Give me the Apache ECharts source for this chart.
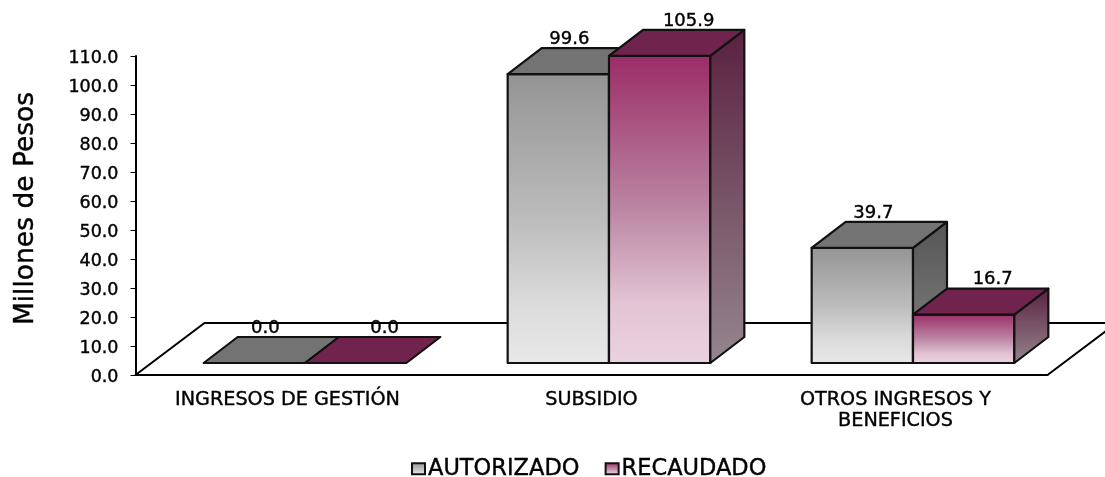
<!DOCTYPE html>
<html>
<head>
<meta charset="utf-8">
<style>
    html, body { margin: 0; padding: 0; background: #fff; }
    #chart { width: 1105px; height: 477px; }
</style>
</head>
<body>
<div id="chart"></div>
<script src="https://cdn.jsdelivr.net/npm/echarts@6/dist/echarts.min.js"></script>
<script>
const categories = ['INGRESOS DE GESTIÓN', 'SUBSIDIO', 'OTROS INGRESOS Y\nBENEFICIOS'];
const autorizado = [0.0, 99.6, 39.7];
const recaudado = [0.0, 105.9, 16.7];

const FONT = '"DejaVu Sans"';

// 3D look: pixel offsets of the floor and of the bar depth
const FLOOR_DX = 69, FLOOR_DY = 52;
const BAR_SHIFT_X = 17.5, BAR_SHIFT_Y = 12;
const BAR_DX = 34, BAR_DY = 26;

// slightly heavier text, the original face is a medium weight
const heavy = { textBorderColor: '#000', textBorderWidth: 0.4 };

function vGrad(stops) {
    return new echarts.graphic.LinearGradient(0, 0, 0, 1,
        stops.map(s => ({ offset: s[0], color: s[1] })));
}

const grayFront = vGrad([[0, '#949494'], [0.5, '#bcbcbc'], [0.8, '#dcdcdc'], [1, '#e8e8e8']]);
const redFront = vGrad([[0, '#9b2c66'], [0.5, '#bb86a3'], [0.8, '#e2c4d4'], [1, '#ebd2df']]);

function poly(points, fill) {
    return {
        type: 'polygon',
        shape: { points: points },
        style: { fill: fill, stroke: '#111', lineWidth: 2.2, lineJoin: 'round' }
    };
}

// slot 0 = left bar of the group, slot 1 = right bar
function barRenderer(slot, colors) {
    return function (params, api) {
        const val = api.value(1);
        const top = api.coord([api.value(0), val]);
        const base = api.coord([api.value(0), 0]);
        const w = api.size([1, 0])[0] / 3;
        const x0 = top[0] - w + slot * w + BAR_SHIFT_X;
        const x1 = x0 + w;
        const yT = top[1] - BAR_SHIFT_Y;
        const yB = base[1] - BAR_SHIFT_Y;
        const children = [{
            type: 'text',
            style: {
                text: val.toFixed(1),
                x: (x0 + x1) / 2 + colors.labelDx,
                y: yT - 35,
                align: 'center',
                verticalAlign: 'middle',
                font: '18px ' + FONT,
                fill: '#000',
                stroke: '#000',
                lineWidth: 0.4
            }
        }];
        if (val > 0) {
            children.push(poly([[x0, yB], [x1, yB], [x1, yT], [x0, yT]], colors.front));
            children.push(poly([[x1, yB], [x1 + BAR_DX, yB - BAR_DY], [x1 + BAR_DX, yT - BAR_DY], [x1, yT]], colors.side));
        }
        children.push(poly([[x0, yT], [x1, yT], [x1 + BAR_DX, yT - BAR_DY], [x0 + BAR_DX, yT - BAR_DY]], colors.top));
        return { type: 'group', children: children };
    };
}

function floorRenderer(params, api) {
    const o = api.coord([0, 0]);
    const band = api.size([1, 0])[0];
    const xL = o[0] - band / 2;
    const xR = xL + band * categories.length;
    return {
        type: 'polyline',
        shape: { points: [[xL, o[1]], [xL + FLOOR_DX, o[1] - FLOOR_DY], [xR + FLOOR_DX, o[1] - FLOOR_DY], [xR, o[1]]] },
        style: { fill: 'none', stroke: '#000', lineWidth: 2 }
    };
}

const option = {
    animation: false,
    backgroundColor: '#fff',
    grid: { left: 135.5, top: 56, width: 912, height: 319, outerBoundsMode: 'none' },
    legend: {
        left: 411,
        top: 457,
        padding: 0,
        itemWidth: 13,
        itemHeight: 11,
        itemGap: 25,
        textStyle: { fontFamily: FONT, fontSize: 22.5, color: '#000', padding: [0, 0, 0, -2], ...heavy },
        data: [
            { name: 'AUTORIZADO', icon: 'rect', itemStyle: { color: grayFront, borderColor: '#111', borderWidth: 2 } },
            { name: 'RECAUDADO', icon: 'rect', itemStyle: { color: redFront, borderColor: '#111', borderWidth: 2 } }
        ]
    },
    xAxis: {
        type: 'category',
        data: categories,
        axisLine: { lineStyle: { color: '#000', width: 2 } },
        axisTick: { length: 4, lineStyle: { color: '#000', width: 1 } },
        axisLabel: { color: '#000', fontFamily: FONT, fontSize: 19.2, margin: 15, lineHeight: 21, interval: 0, ...heavy }
    },
    yAxis: {
        type: 'value',
        min: 0,
        max: 110,
        interval: 10,
        name: 'Millones de Pesos',
        nameLocation: 'middle',
        nameRotate: 90,
        nameGap: 96,
        nameTextStyle: { color: '#000', fontFamily: FONT, fontSize: 26.5, padding: [0, 0, 0, 14], ...heavy },
        axisLine: { show: true, lineStyle: { color: '#000', width: 2 } },
        axisTick: { show: true, length: 5, lineStyle: { color: '#000', width: 1 } },
        axisLabel: {
            margin: 17,
            formatter: v => '{t|' + v.toFixed(1) + '}',
            rich: { t: { color: '#000', fontFamily: FONT, fontSize: 17.5, padding: [4, 0, 0, 0], ...heavy } }
        },
        splitLine: { show: false }
    },
    series: [
        {
            type: 'custom',
            silent: true,
            z: 1,
            clip: false,
            renderItem: floorRenderer,
            encode: { x: 0, y: 1 },
            data: [[0, 0]]
        },
        {
            name: 'AUTORIZADO',
            type: 'custom',
            z: 2,
            renderItem: barRenderer(0, {
                front: grayFront,
                side: vGrad([[0, '#555555'], [1, '#828282']]),
                top: '#737373',
                labelDx: 11
            }),
            encode: { x: 0, y: 1 },
            data: autorizado.map((v, i) => [i, v])
        },
        {
            name: 'RECAUDADO',
            type: 'custom',
            z: 3,
            renderItem: barRenderer(1, {
                front: redFront,
                side: vGrad([[0, '#5a2140'], [1, '#95868e']]),
                top: '#70234c',
                labelDx: 29
            }),
            encode: { x: 0, y: 1 },
            data: recaudado.map((v, i) => [i, v])
        }
    ]
};

const myChart = echarts.init(document.getElementById('chart'));
myChart.setOption(option);
</script>
</body>
</html>
